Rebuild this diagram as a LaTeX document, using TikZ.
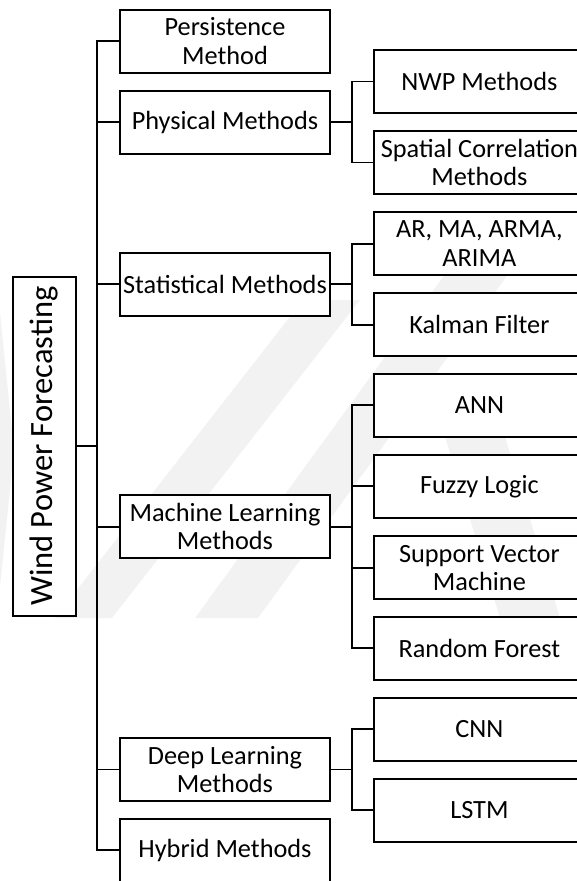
\documentclass[tikz,border=0pt]{standalone}
\usepackage{fontspec}
\setmainfont{Carlito}
\begin{document}
\begin{tikzpicture}[x=1pt,y=-1pt,
  box/.style={draw=black, fill=white, line width=2pt, minimum width=210pt, minimum height=63pt,
    inner sep=0pt, outer sep=0pt, align=center, text=black,
    font=\fontsize{26.3}{28.3}\selectfont},
  rootbox/.style={draw=black, fill=white, line width=2pt, rotate=90, minimum width=339pt,
    minimum height=63pt, inner sep=0pt, outer sep=0pt, text=black,
    font=\fontsize{32.5}{34}\selectfont},
  link/.style={draw=black, line width=1.8pt},
  wmark/.style={fill=black!5, draw=none}]
\useasboundingbox (0,0) rectangle (577,881);
\clip (0,0) rectangle (577,881);

% faint background watermark bands
\fill[wmark] (0,313) -- (14,450) -- (0,587) -- cycle;
\fill[wmark] (55,618) -- (112,618) -- (360,300) -- (303,300) -- cycle;
\fill[wmark] (195,618) -- (258,618) -- (533,240) -- (470,240) -- cycle;
\fill[wmark] (440,420) -- (500,420) -- (560,618) -- (500,618) -- cycle;

% first level
\node[box] (pers)  at (225,41)    {Persistence\\Method};
\node[box] (phys)  at (225,122.3) {Physical Methods};
\node[box] (stat)  at (225,284.2) {Statistical Methods};
\node[box] (ml)    at (225,526.8) {Machine Learning\\Methods};
\node[box] (deep)  at (225,769.5) {Deep Learning\\Methods};
\node[box] (hyb)   at (225,850.3) {Hybrid Methods};

% second level
\node[box] (nwp)    at (479.4,81.5)  {NWP Methods};
\node[box] (spat)   at (479.4,162.5) {Spatial Correlation\\Methods};
\node[box] (arma)   at (479.4,243.7) {AR, MA, ARMA,\\ARIMA};
\node[box] (kalman) at (479.4,324.7) {Kalman Filter};
\node[box] (ann)    at (479.4,405.3) {ANN};
\node[box] (fuzzy)  at (479.4,486.3) {Fuzzy Logic};
\node[box] (svm)    at (479.4,567.8) {Support Vector\\Machine};
\node[box] (rf)     at (479.4,648.3) {Random Forest};
\node[box] (cnn)    at (479.4,729)   {CNN};
\node[box] (lstm)   at (479.4,810)   {LSTM};

% root (text turned to read upwards; its right side is the south anchor)
\node[rootbox] (wpf) at (44.2,446.2) {Wind Power Forecasting};

% trunk from the root
\foreach \c in {pers,phys,stat,ml,deep,hyb}
  \draw[link] (wpf.south) -- ++(21.6,0) |- (\c.west);

% branches to second level
\foreach \p/\c in {phys/nwp,phys/spat,stat/arma,stat/kalman,
                   ml/ann,ml/fuzzy,ml/svm,ml/rf,deep/cnn,deep/lstm}
  \draw[link] (\p.east) -- ++(21.7,0) |- (\c.west);
\end{tikzpicture}
\end{document}
